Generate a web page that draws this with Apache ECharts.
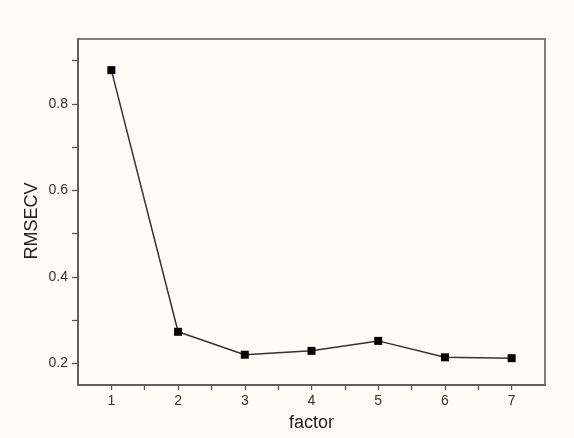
<!DOCTYPE html>
<html>
<head>
<meta charset="utf-8">
<script src="https://cdn.jsdelivr.net/npm/echarts@6/dist/echarts.min.js"></script>
<style>
html,body{margin:0;padding:0;background:#fffcf8;}
#c{width:574px;height:438px;}
</style>
</head>
<body>
<div id="c"></div>
<script>
// Data
const factors = [1, 2, 3, 4, 5, 6, 7];
const rmsecv = [0.878, 0.273, 0.220, 0.229, 0.252, 0.214, 0.212];
// Axis ticks / labels
const xTickValues = [1, 1.5, 2, 2.5, 3, 3.5, 4, 4.5, 5, 5.5, 6, 6.5, 7];
const xLabelValues = [1, 2, 3, 4, 5, 6, 7];
const yTickValues = [0.2, 0.3, 0.4, 0.5, 0.6, 0.7, 0.8, 0.9];
const yLabelValues = [0.2, 0.4, 0.6, 0.8];

const axisColor = '#555';
const chart = echarts.init(document.getElementById('c'), null, {renderer: 'canvas'});
chart.setOption({
  backgroundColor: '#fffcf8',
  animation: false,
  grid: {left: 78, right: 29, top: 39, bottom: 53, show: true, borderColor: axisColor, borderWidth: 1.5, backgroundColor: 'transparent'},
  xAxis: {
    type: 'value', min: 0.5, max: 7.5,
    name: 'factor', nameLocation: 'middle', nameGap: 29,
    nameTextStyle: {fontFamily: 'Liberation Sans', fontSize: 18, color: '#222'},
    axisLine: {show: true, lineStyle: {color: axisColor, width: 1.5}},
    axisTick: {show: true, length: 5, customValues: xTickValues, lineStyle: {color: axisColor, width: 1.3}},
    axisLabel: {customValues: xLabelValues, fontFamily: 'Liberation Sans', fontSize: 14, color: '#333', margin: 9},
    splitLine: {show: false}
  },
  yAxis: {
    type: 'value', min: 0.15, max: 0.95,
    name: 'RMSECV', nameLocation: 'middle', nameGap: 37, nameMoveOverlap: false,
    nameTextStyle: {fontFamily: 'Liberation Sans', fontSize: 18, color: '#222', padding: [0, 18, 0, 0]},
    axisLine: {show: true, lineStyle: {color: axisColor, width: 1.5}},
    axisTick: {show: true, length: 6, customValues: yTickValues, lineStyle: {color: axisColor, width: 1.3}},
    axisLabel: {customValues: yLabelValues, fontFamily: 'Liberation Sans', fontSize: 14, color: '#333', margin: 10,
      formatter: v => v.toFixed(1)},
    splitLine: {show: false}
  },
  series: [{
    type: 'line',
    data: factors.map((f, i) => [f, rmsecv[i]]),
    symbol: 'rect', symbolSize: 8,
    itemStyle: {color: '#000', borderColor: '#000', borderWidth: 0},
    lineStyle: {color: '#333', width: 1.5}
  }]
});
</script>
</body>
</html>
